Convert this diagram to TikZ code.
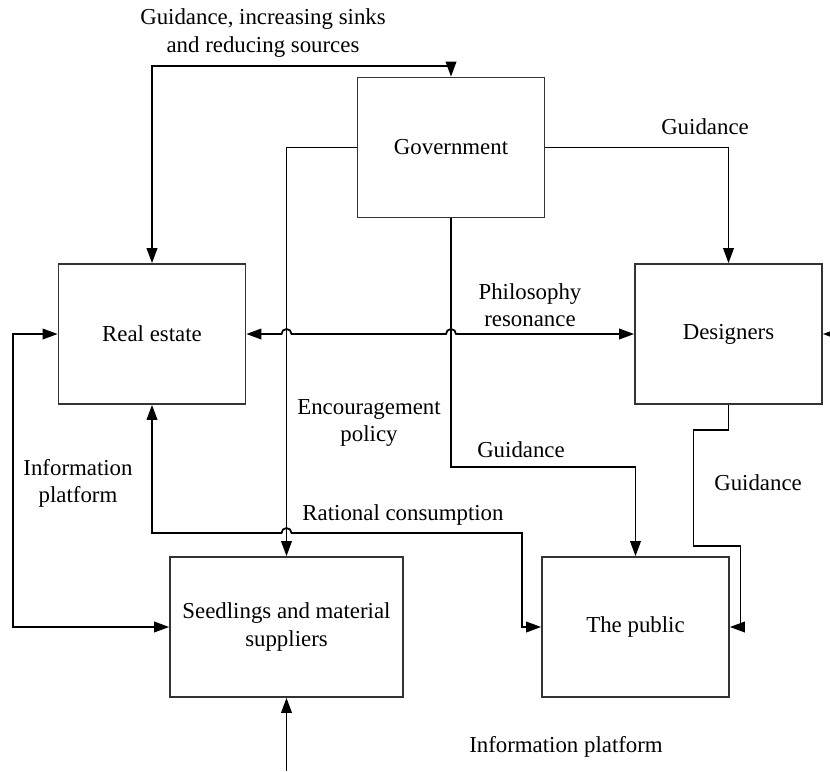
\documentclass[tikz,border=0pt]{standalone}
\usepackage{fontspec}
\setmainfont{Liberation Serif}
\usetikzlibrary{arrows.meta,calc}
\begin{document}
\begin{tikzpicture}[x=0.02cm,y=-0.02cm,
  box/.style={draw=black!80,line width=1pt,minimum width=3.74cm,minimum height=2.8cm,inner sep=0pt,align=center},
  lbl/.style={align=center,inner sep=0pt},
  conn/.style={line width=1pt,>={Triangle[length=8.5pt,width=6pt]}},
  every node/.style={font=\fontsize{13}{15.5}\selectfont}]
\useasboundingbox (0,0) rectangle (830,771);
\node[box] (gov) at (451,147.5) {Government};
\node[box] (re) at (152,334) {Real estate};
\node[box] (des) at (728.5,334) {Designers};
\node[box,minimum width=4.66cm] (seed) at (286.5,627) {Seedlings and material\\suppliers};
\node[box] (pub) at (635.5,627) {The public};
\coordinate (rin) at (830,334);
\coordinate (bin) at (286.5,771);
\coordinate (rcbend) at (522,533);
% connectors
\draw[conn,<->] (re.north) -- ++(0,-197) -| (gov.north);
\draw[conn,->] (gov.west) -| (seed.north);
\draw[conn,->] (gov.east) -| (des.north);
\draw[conn,->] (gov.south) -- ++(0,249) -| (pub.north);
\draw[conn,<->] (re.east) -- ($(re.east -| seed.north)+(-5,0)$) arc[start angle=180,end angle=0,radius=0.1cm]
  -- ($(re.east -| gov.south)+(-5,0)$) arc[start angle=180,end angle=0,radius=0.1cm] -- (des.west);
\draw[conn,->] (des.south) -- ++(0,25) -- ++(-35,0) -- ++(0,116) -- ++(47,0) |- (pub.east);
\draw[conn,<->] (re.south) |- ($(seed.north |- rcbend)+(-5,0)$) arc[start angle=180,end angle=0,radius=0.1cm]
  -- (rcbend) |- (pub.west);
\draw[conn,<->] (re.west) -- ++(-45,0) |- (seed.west);
\draw[conn,->] (bin) -- (seed.south);
\draw[conn,->] (rin) -- (des.east);
% labels
\node[lbl] (l1) at (263,33) {Guidance, increasing sinks\\and reducing sources};
\node[lbl] (l2) at (705,127) {Guidance};
\node[lbl] (l3) at (530,305) {Philosophy\\resonance};
\node[lbl] (l4) at (369,423) {Encouragement\\policy};
\node[lbl] (l5) at (521,450) {Guidance};
\node[lbl] (l6) at (758,483) {Guidance};
\node[lbl] (l7) at (78,483) {Information\\platform};
\node[lbl] (l8) at (403,515) {Rational consumption};
\node[lbl] (l9) at (566,747) {Information platform};
\end{tikzpicture}
\end{document}
